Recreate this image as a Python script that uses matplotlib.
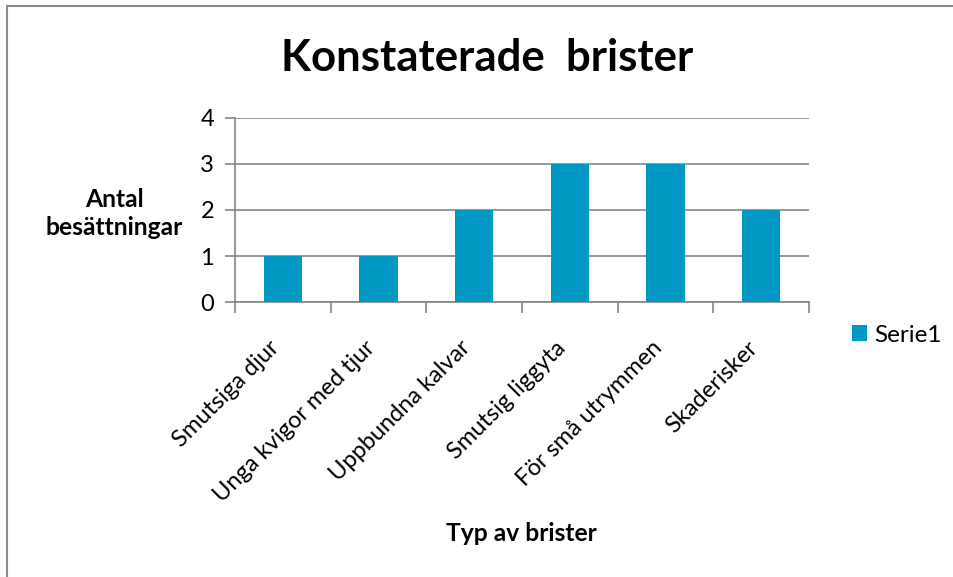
import matplotlib.pyplot as plt
from matplotlib.lines import Line2D
from matplotlib.transforms import ScaledTranslation

categories = ["Smutsiga djur", "Unga kvigor med tjur", "Uppbundna kalvar",
              "Smutsig liggyta", "För små utrymmen", "Skaderisker"]
values = [1, 1, 2, 3, 3, 2]
yticks = [0, 1, 2, 3, 4]

plt.rcParams['font.family'] = ['Lato', 'DejaVu Sans']
bar_color = "#0099C6"
grid_color = "#868686"

fig = plt.figure(figsize=(9.54, 5.77), dpi=100)
ax = fig.add_axes([0.2463, 0.4766, 0.6017, 0.3189])

x = list(range(len(categories)))
ax.bar(x, values, width=0.4, color=bar_color, label="Serie1", zorder=3)
ax.set_xlim(-0.5, len(categories) - 0.5)
ax.set_ylim(0, 4)
ax.set_yticks(yticks)
ax.set_yticklabels([str(t) for t in yticks], fontsize=17)
ax.grid(axis='y', color=grid_color, linewidth=1.2, zorder=0)

ax.set_xticks(x)
ax.set_xticklabels(categories, rotation=45, ha='right', va='center',
                   rotation_mode='anchor', fontsize=17)
ax.set_xticks([i - 0.5 for i in range(len(categories) + 1)], minor=True)
ax.tick_params(axis='x', which='major', length=0, pad=22)
ax.tick_params(axis='x', which='minor', length=8, color=grid_color, width=1.2)
ax.tick_params(axis='y', length=7, color=grid_color, width=1.2, pad=8)

# nudge the rotated labels down-left a bit
shift = ScaledTranslation(-0.07, -0.12, fig.dpi_scale_trans)
for lbl in ax.get_xticklabels():
    lbl.set_transform(lbl.get_transform() + shift)

for s in ['top', 'right']:
    ax.spines[s].set_visible(False)
for s in ['left', 'bottom']:
    ax.spines[s].set_color(grid_color)
    ax.spines[s].set_linewidth(1.2)

fig.text(0.5105, 0.90, "Konstaterade  brister", ha='center', va='center',
         fontsize=31.5, fontweight='bold')
fig.text(0.1195, 0.63, "Antal\nbesättningar", ha='center', va='center',
         fontsize=17.7, fontweight='bold', linespacing=1.25)
fig.text(0.547, 0.076, "Typ av brister", ha='center', va='center',
         fontsize=17.7, fontweight='bold')

fig.legend(loc='center left', bbox_to_anchor=(0.893, 0.419), frameon=False,
           fontsize=17.5, handlelength=0.62, handleheight=0.62, handletextpad=0.3,
           borderaxespad=0, borderpad=0)

# chart frame: only top and left edges show in the crop
fig.lines.append(Line2D([0.0073, 1.0], [0.9896, 0.9896], transform=fig.transFigure,
                        color="#8c8c8c", linewidth=1.5))
fig.lines.append(Line2D([0.0073, 0.0073], [0.0, 0.9896], transform=fig.transFigure,
                        color="#8c8c8c", linewidth=1.5))

fig.savefig("out.png", dpi=100)
